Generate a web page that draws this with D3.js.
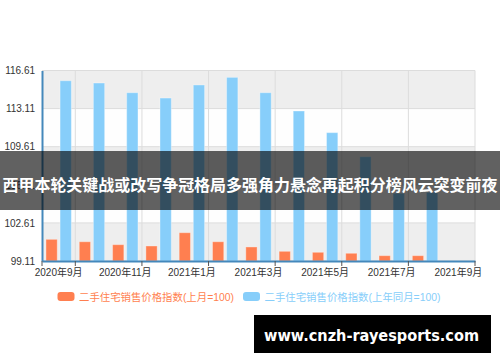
<!DOCTYPE html>
<html>
<head>
<meta charset="utf-8">
<script src="https://cdn.jsdelivr.net/npm/d3@7/dist/d3.min.js"></script>
<style>
  html, body { margin: 0; padding: 0; background: #fff; }
  svg { display: block; }
</style>
</head>
<body>
<script>
// month labels (last one has no data)
const months = ["2020年9月", "2020年10月", "2020年11月", "2020年12月", "2021年1月", "2021年2月",
  "2021年3月", "2021年4月", "2021年5月", "2021年6月", "2021年7月", "2021年8月", "2021年9月"];
const seriesNames = ["二手住宅销售价格指数(上月=100)", "二手住宅销售价格指数(上年同月=100)"];
const momValues = [101.10, 100.88, 100.61, 100.49, 101.71, 100.88, 100.40, 100.00, 99.91, 99.82, 99.60, 99.60, null];
const yoyValues = [115.67, 115.46, 114.57, 114.08, 115.28, 115.98, 114.57, 112.89, 110.90, 108.69, 105.33, 105.42, null];
const yTicks = [99.11, 102.61, 106.11, 109.61, 113.11, 116.61];
const colors = ["#ff7f50", "#87cefa"];
const headline = "西甲本轮关键战或改写争冠格局多强角力悬念再起积分榜风云突变前夜";
const watermark = "www.cnzh-rayesports.com";

const width = 500, height = 362;
const plotLeft = 42, plotRight = 475, plotTop = 70.5, plotBottom = 261;
const font = "'Liberation Sans', Arial, 'Noto Sans CJK SC', sans-serif";

const svg = d3.select("body").append("svg")
  .attr("width", width)
  .attr("height", height);

const x = d3.scaleBand().domain(months).range([plotLeft, plotRight]).paddingInner(0).paddingOuter(0);
const xInner = d3.scaleBand().domain([0, 1]).range([0, x.bandwidth()]).paddingInner(0.2).paddingOuter(0.28);
const y = d3.scaleLinear().domain([yTicks[0], yTicks[yTicks.length - 1]]).range([plotBottom, plotTop]);

// split areas
const bands = d3.pairs(yTicks);
svg.append("g").selectAll("rect")
  .data(bands)
  .join("rect")
    .attr("x", plotLeft)
    .attr("width", plotRight - plotLeft)
    .attr("y", d => y(d[1]))
    .attr("height", d => y(d[0]) - y(d[1]))
    .attr("fill", (d, i) => i % 2 === 0 ? "#eeeeee" : "#fefefe");

// horizontal split lines
svg.append("g").selectAll("line")
  .data(yTicks)
  .join("line")
    .attr("x1", plotLeft).attr("x2", plotRight)
    .attr("y1", d => y(d)).attr("y2", d => y(d))
    .attr("stroke", "#dcdcdc")
    .attr("stroke-width", 1);

// vertical split lines at every other category boundary
const boundaries = months.map((m, i) => i).filter(i => i % 2 === 1).map(i => x(months[i]));
boundaries.push(plotRight);
svg.append("g").selectAll("line")
  .data(boundaries)
  .join("line")
    .attr("x1", d => d).attr("x2", d => d)
    .attr("y1", plotTop).attr("y2", plotBottom)
    .attr("stroke", "#dcdcdc")
    .attr("stroke-width", 1);

// bars
const series = [momValues, yoyValues];
series.forEach((vals, s) => {
  svg.append("g").selectAll("rect")
    .data(months.map((m, i) => ({ month: m, value: vals[i] })).filter(d => d.value != null))
    .join("rect")
      .attr("x", d => x(d.month) + xInner(s))
      .attr("width", xInner.bandwidth())
      .attr("y", d => y(d.value))
      .attr("height", d => plotBottom - y(d.value))
      .attr("fill", colors[s])
      .attr("stroke", "rgba(255,255,255,0.35)")
      .attr("stroke-width", 1);
});

// y axis
const yAxis = d3.axisLeft(y).tickValues(yTicks).tickFormat(d3.format(".2f")).tickSize(0).tickPadding(7);
const yg = svg.append("g")
  .attr("transform", `translate(${plotLeft},0)`)
  .call(yAxis);
yg.select(".domain").attr("stroke", "#4488bb").attr("stroke-width", 2);
yg.selectAll("text").attr("font-family", font).attr("font-size", 10).attr("fill", "#333");

// x axis: line from d3, labels on every other month, ticks on the split lines
const xAxis = d3.axisBottom(x).tickValues([]).tickSizeOuter(0);
const xg = svg.append("g")
  .attr("transform", `translate(0,${plotBottom})`)
  .call(xAxis);
xg.select(".domain").attr("stroke", "#4488bb").attr("stroke-width", 2);
xg.selectAll(".lbl")
  .data(months.filter((m, i) => i % 2 === 0))
  .join("text")
    .attr("class", "lbl")
    .attr("x", d => x(d) + x.bandwidth() / 2)
    .attr("y", 15)
    .attr("text-anchor", "middle")
    .attr("font-family", font)
    .attr("font-size", 10)
    .attr("fill", "#333")
    .text(d => d);
xg.selectAll(".tk")
  .data([plotLeft].concat(boundaries))
  .join("line")
    .attr("class", "tk")
    .attr("x1", d => d).attr("x2", d => d)
    .attr("y1", 0).attr("y2", 5)
    .attr("stroke", "#555")
    .attr("stroke-width", 1);

// legend
const legendItems = [
  { name: seriesNames[0], color: colors[0], x: 57.5, tw: 155 },
  { name: seriesNames[1], color: colors[1], x: 243, tw: 176 }
];
const lg = svg.append("g").selectAll("g")
  .data(legendItems)
  .join("g")
    .attr("transform", d => `translate(${d.x},292)`);
lg.append("rect")
  .attr("width", 17).attr("height", 9).attr("rx", 3)
  .attr("fill", d => d.color);
lg.append("text")
  .attr("x", 21.5).attr("y", 8.5)
  .attr("font-family", font)
  .attr("font-size", 10.5)
  .attr("fill", d => d.color)
  .attr("textLength", d => d.tw)
  .attr("lengthAdjust", "spacingAndGlyphs")
  .text(d => d.name);

// headline overlay
svg.append("rect")
  .attr("x", 0).attr("y", 151)
  .attr("width", width).attr("height", 59)
  .attr("fill", "rgba(0,0,0,0.62)");
svg.append("text")
  .attr("x", width / 2).attr("y", 191)
  .attr("text-anchor", "middle")
  .attr("font-family", "'Noto Sans CJK SC', sans-serif")
  .attr("font-weight", "bold")
  .attr("font-size", 16)
  .attr("fill", "#fff")
  .attr("textLength", 495)
  .attr("lengthAdjust", "spacingAndGlyphs")
  .text(headline);

// watermark
svg.append("rect")
  .attr("x", 254).attr("y", 315)
  .attr("width", 237).attr("height", 38)
  .attr("fill", "#000");
svg.append("text")
  .attr("x", 371.5).attr("y", 341)
  .attr("text-anchor", "middle")
  .attr("font-family", "'DejaVu Sans', Verdana, sans-serif")
  .attr("font-weight", "bold")
  .attr("font-size", 16)
  .attr("fill", "#fff")
  .attr("textLength", 215)
  .attr("lengthAdjust", "spacingAndGlyphs")
  .text(watermark);
</script>
</body>
</html>
